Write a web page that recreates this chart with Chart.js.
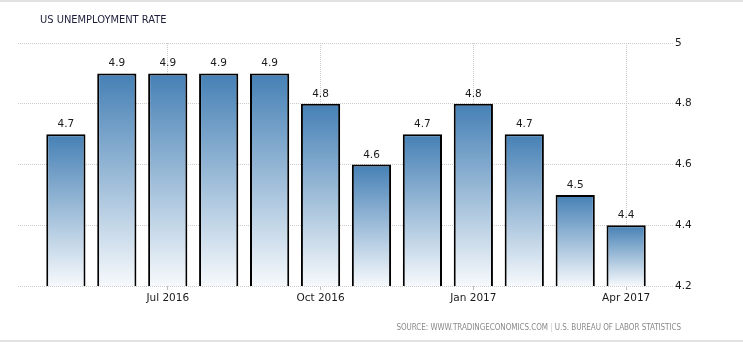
<!DOCTYPE html>
<html>
<head>
<meta charset="utf-8">
<script src="https://cdn.jsdelivr.net/npm/chart.js@4/dist/chart.umd.min.js"></script>
<style>
  html, body { margin: 0; padding: 0; background: #fff; }
  #wrap { position: relative; width: 743px; height: 342px; box-sizing: border-box; border-top: 2px solid #e2e2e2; border-bottom: 2px solid #e2e2e2; overflow: hidden; }
  #c { position: absolute; left: 0; top: -2px; }
  #title { position: absolute; left: 40px; top: 11px; font: 11px "DejaVu Sans Condensed", "DejaVu Sans", sans-serif; color: #1e1e3c; white-space: nowrap; }
  #source { position: absolute; right: 62px; top: 321px; font: 8px "DejaVu Sans Condensed", "DejaVu Sans", sans-serif; color: #8a8a8a; white-space: nowrap; letter-spacing: -0.05px; }
  #source .sep { color: #c8c8c8; }
</style>
</head>
<body>
<div id="wrap">
  <canvas id="c" width="743" height="342"></canvas>
  <div id="title">US UNEMPLOYMENT RATE</div>
  <div id="source">SOURCE: WWW.TRADINGECONOMICS.COM <span class="sep">|</span> U.S. BUREAU OF LABOR STATISTICS</div>
</div>
<script>
const categories = ["May 2016","Jun 2016","Jul 2016","Aug 2016","Sep 2016","Oct 2016","Nov 2016","Dec 2016","Jan 2017","Feb 2017","Mar 2017","Apr 2017"];
const values = [4.7, 4.9, 4.9, 4.9, 4.9, 4.8, 4.6, 4.7, 4.8, 4.7, 4.5, 4.4];
const xTickLabels = ["Jul 2016","Oct 2016","Jan 2017","Apr 2017"];
const yTicks = [4.2, 4.4, 4.6, 4.8, 5];

const points = categories.map((c, i) => ({ x: i, y: values[i] }));
const xTickPositions = xTickLabels.map(l => categories.indexOf(l));

const gridColor = '#cccccc';
const FONT = '"DejaVu Sans", sans-serif';

function barGradient(ctx) {
  const chart = ctx.chart;
  const area = chart.chartArea;
  if (!area || ctx.raw == null) return '#4682b4';
  const yScale = chart.scales.y;
  const top = yScale.getPixelForValue(ctx.raw.y);
  const g = chart.ctx.createLinearGradient(0, top, 0, area.bottom);
  g.addColorStop(0, '#4580b5');
  g.addColorStop(1, '#f6f9fc');
  return g;
}

const valueLabels = {
  id: 'valueLabels',
  afterDatasetsDraw(chart) {
    const ctx = chart.ctx;
    const meta = chart.getDatasetMeta(0);
    ctx.save();
    ctx.font = '10.5px ' + FONT;
    ctx.fillStyle = '#1a1a1a';
    ctx.textAlign = 'center';
    ctx.textBaseline = 'alphabetic';
    meta.data.forEach((bar, i) => {
      ctx.fillText(values[i].toFixed(1), bar.x, bar.y - 7);
    });
    ctx.restore();
  }
};

new Chart(document.getElementById('c'), {
  type: 'bar',
  data: {
    datasets: [{
      data: points,
      backgroundColor: barGradient,
      borderColor: '#000',
      borderWidth: 2,
      borderSkipped: false,
      barPercentage: 0.77,
      categoryPercentage: 1
    }]
  },
  options: {
    responsive: false,
    animation: false,
    layout: { padding: { left: 18, top: 43, right: 0, bottom: 0 } },
    plugins: { legend: { display: false }, tooltip: { enabled: false }, title: { display: false } },
    scales: {
      x: {
        type: 'linear',
        min: -0.94,
        max: 11.92,
        offset: false,
        afterBuildTicks(scale) { scale.ticks = xTickPositions.map(v => ({ value: v })); },
        afterFit(scale) { scale.height = 342 - 286; },
        ticks: {
          autoSkip: false,
          maxRotation: 0,
          padding: 2,
          color: '#1a1a1a',
          font: { family: FONT, size: 10.5 },
          callback: (v, i) => xTickLabels[i]
        },
        grid: {
          color: gridColor,
          drawTicks: true,
          tickLength: 4,
          tickColor: '#bbb',
          tickBorderDash: [],
          offset: false
        },
        border: { display: false, dash: [1, 1] }
      },
      y: {
        position: 'right',
        min: 4.2,
        max: 5,
        afterBuildTicks(scale) { scale.ticks = yTicks.map(v => ({ value: v })); },
        afterFit(scale) { scale.width = 70; },
        ticks: {
          padding: 2,
          color: '#1a1a1a',
          font: { family: FONT, size: 10.5 },
          callback: v => String(v)
        },
        grid: { color: gridColor, drawTicks: false },
        border: { display: false, dash: [1, 1] }
      }
    }
  },
  plugins: [valueLabels]
});
</script>
</body>
</html>
